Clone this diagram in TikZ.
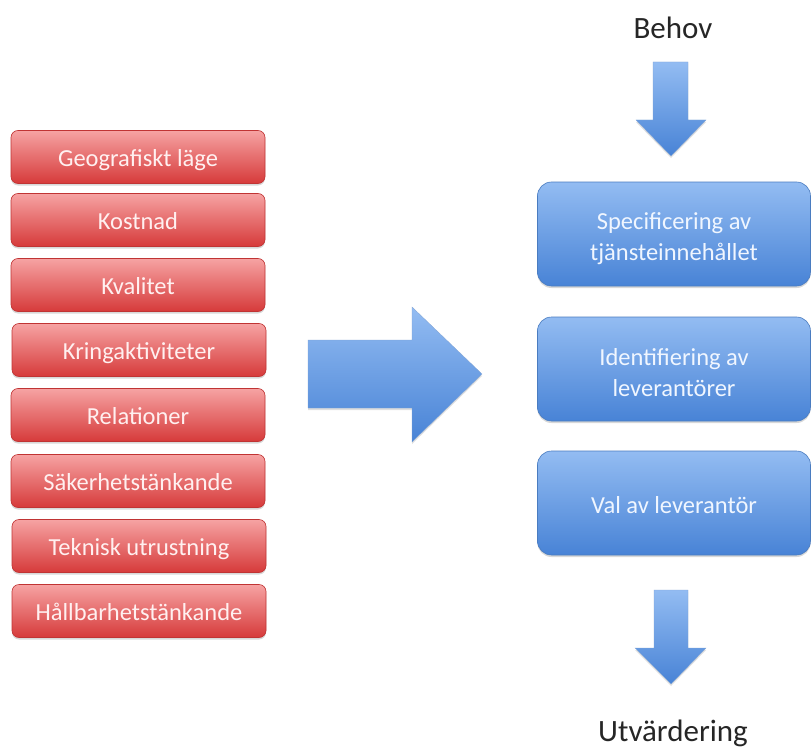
\documentclass[tikz,border=0pt]{standalone}
\usepackage{fontspec}
\setmainfont{Carlito}
\usetikzlibrary{shadows}
\definecolor{redtop}{HTML}{F6A3A3}
\definecolor{redbot}{HTML}{D63A3A}
\definecolor{redline}{HTML}{C03434}
\definecolor{bluetop}{HTML}{93BCF2}
\definecolor{bluebot}{HTML}{4883D6}
\definecolor{blueline}{HTML}{4A7CC0}
\definecolor{redtext}{HTML}{FFF0F0}
\definecolor{bluetext}{HTML}{F0F6FF}
\begin{document}
\begin{tikzpicture}[x=1pt,y=-1pt,
  redbox/.style={draw=redline,line width=0.6pt,rounded corners=7pt,
    top color=redtop,bottom color=redbot,minimum width=254pt,minimum height=53pt,
    drop shadow={shadow xshift=0pt,shadow yshift=-2pt,opacity=0.3},
    text=redtext,font=\fontsize{24.5}{28}\selectfont,text height=24pt,text depth=6pt},
  bluebox/.style={draw=blueline,line width=0.6pt,rounded corners=14pt,
    top color=bluetop,bottom color=bluebot,minimum width=273pt,minimum height=104pt,
    drop shadow={shadow xshift=0pt,shadow yshift=-2pt,opacity=0.3}},
  bluetxt/.style={text=bluetext,font=\fontsize{24.5}{31}\selectfont,align=center,inner sep=0pt},
  blockarrow/.style={top color=bluetop,bottom color=bluebot,draw=blueline!70,line width=0.3pt,
    drop shadow={shadow xshift=0pt,shadow yshift=-2pt,opacity=0.25}},
  label/.style={font=\fontsize{31}{36}\selectfont,text=black!85}]
\useasboundingbox (0,0) rectangle (811,749);
\fill[white] (0,0) rectangle (811,749);
% red boxes
\node[redbox] (r1) at (138,157) {Geografiskt läge};
\node[redbox] (r2) at (138,220) {Kostnad};
\node[redbox] (r3) at (138,285) {Kvalitet};
\node[redbox] (r4) at (139,350) {Kringaktiviteter};
\node[redbox] (r5) at (138,415) {Relationer};
\node[redbox] (r6) at (138,481) {Säkerhetstänkande};
\node[redbox] (r7) at (139,546) {Teknisk utrustning};
\node[redbox] (r8) at (139,611) {Hållbarhetstänkande};
% blue boxes
\node[bluebox] (b1) at (674,234) {};
\node[bluebox] (b2) at (674,369) {};
\node[bluebox] (b3) at (674,503) {};
\node[bluetxt] (t1) at ([yshift=-5pt]b1.center) {Specificering av\\tjänsteinnehållet};
\node[bluetxt] (t2) at ([yshift=-4pt]b2.center) {Identifiering av\\leverantörer};
\node[bluetxt] (t3) at ([yshift=-2pt]b3.center) {Val av leverantör};
% labels
\node[label] (behov) at (673,28) {Behov};
\node[label] (utv) at (673,733) {Utvärdering};
% big right arrow
\path[blockarrow] (308,340) -- (412,340) -- (412,307) -- (482,374) -- (412,442) -- (412,408) -- (308,408) -- cycle;
% down arrows
\path[blockarrow] (653,62) -- (688,62) -- (688,120) -- (706,120) -- (671,156) -- (636,120) -- (653,120) -- cycle;
\path[blockarrow] (654,590) -- (688,590) -- (688,648) -- (706,648) -- (671,684) -- (635,648) -- (654,648) -- cycle;
\end{tikzpicture}
\end{document}
